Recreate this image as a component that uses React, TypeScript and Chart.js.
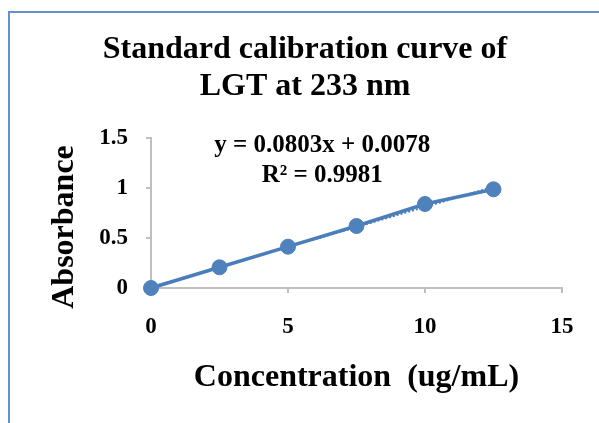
import React, { useEffect, useRef } from "react";
import { Chart, registerables } from "chart.js";

Chart.register(...registerables);

const concentration = [0, 2.5, 5, 7.5, 10, 12.5];
const absorbance = [0, 0.207, 0.413, 0.62, 0.84, 0.987];
const trendX = [0, 12.5];
const trendY = [0.0078, 1.0116];
const titleLines = ["Standard calibration curve of", "LGT at 233 nm"];
const xTitle = "Concentration  (ug/mL)";
const yTitle = "Absorbance";
const equationLines = ["y = 0.0803x + 0.0078", "R² = 0.9981"];
const equationX = 6.25;
const equationY = [1.36, 1.06];
const xTicks = { min: 0, max: 15, step: 5 };
const yTicks = { min: 0, max: 1.5, step: 0.5 };

const FONT = '"Liberation Serif", "Times New Roman", serif';
const BLUE = "#4a7ebb";
const AXIS = "#bfbfbf";

const decor = {
  id: "decor",
  beforeDraw(chart: any) {
    const ctx = chart.ctx;
    ctx.save();
    ctx.strokeStyle = "#6490cc";
    ctx.lineWidth = 2;
    ctx.beginPath();
    ctx.moveTo(9, chart.height);
    ctx.lineTo(9, 12);
    ctx.lineTo(chart.width, 12);
    ctx.stroke();
    ctx.restore();
  },
  afterDatasetsDraw(chart: any) {
    const ctx = chart.ctx;
    const area = chart.chartArea;
    const xs = chart.scales.x;
    const ys = chart.scales.y;
    ctx.save();
    ctx.fillStyle = "#000";
    ctx.font = `bold 25px ${FONT}`;
    ctx.textAlign = "center";
    ctx.textBaseline = "alphabetic";
    equationLines.forEach((t, i) => {
      ctx.fillText(t, xs.getPixelForValue(equationX), ys.getPixelForValue(equationY[i]));
    });
    // y axis title
    ctx.font = `bold 32px ${FONT}`;
    ctx.translate(area.left - 78, (area.top + area.bottom) / 2 + 14);
    ctx.rotate(-Math.PI / 2);
    ctx.fillText(yTitle, 0, 0);
    ctx.restore();
  },
};

export default function App() {
  const ref = useRef<HTMLCanvasElement>(null);
  useEffect(() => {
    if (!ref.current) return;
    const chart = new Chart(ref.current, {
      type: "scatter",
      data: {
        datasets: [
          {
            label: "Absorbance",
            data: concentration.map((x, i) => ({ x, y: absorbance[i] })),
            showLine: true,
            borderColor: BLUE,
            backgroundColor: "#4f81bd",
            borderWidth: 3.5,
            pointRadius: 7.5,
            pointHoverRadius: 7.5,
            pointBorderWidth: 1,
            pointBorderColor: "#4f81bd",
            clip: false as any,
            order: 1,
          },
          {
            label: "Trend",
            data: trendX.map((x, i) => ({ x, y: trendY[i] })),
            showLine: true,
            borderColor: BLUE,
            borderWidth: 2,
            borderDash: [2, 2],
            pointRadius: 0,
            clip: false as any,
            order: 2,
          },
        ],
      },
      options: {
        responsive: false,
        animation: false,
        layout: { padding: { left: 48, right: 37, top: 0, bottom: 0 } },
        plugins: {
          legend: { display: false },
          tooltip: { enabled: false },
          title: {
            display: true,
            text: titleLines,
            color: "#000",
            font: { family: FONT, size: 32, weight: "bold", lineHeight: 1.156 },
            padding: { top: 31.7, bottom: 32.3 },
          },
        },
        scales: {
          x: {
            type: "linear",
            min: xTicks.min,
            max: xTicks.max,
            afterFit(scale: any) {
              scale.height = 135;
            },
            ticks: {
              stepSize: xTicks.step,
              color: "#000",
              font: { family: FONT, size: 23, weight: "bold" },
              padding: 20,
              maxRotation: 0,
              callback: (v: any) => String(Number(v)),
            },
            grid: { drawOnChartArea: false, drawTicks: true, tickLength: 5, color: AXIS, lineWidth: 2 },
            border: { display: true, color: AXIS, width: 2 },
            title: {
              display: true,
              text: xTitle,
              color: "#000",
              font: { family: FONT, size: 32, weight: "bold", lineHeight: 1.2 },
              padding: { top: 0, bottom: 25.6 },
            },
          },
          y: {
            type: "linear",
            min: yTicks.min,
            max: yTicks.max,
            afterFit(scale: any) {
              scale.width = 103;
            },
            ticks: {
              stepSize: yTicks.step,
              color: "#000",
              font: { family: FONT, size: 23, weight: "bold" },
              padding: 18,
              callback: (v: any) => String(Number(v)),
            },
            grid: { drawOnChartArea: false, drawTicks: true, tickLength: 5, color: AXIS, lineWidth: 2 },
            border: { display: true, color: AXIS, width: 2 },
          },
        },
      },
      plugins: [decor],
    });
    return () => chart.destroy();
  }, []);
  return (
    <div style={{ position: "fixed", left: 0, top: 0, width: 599, height: 423, background: "#fff" }}>
      <canvas ref={ref} width={599} height={423} style={{ width: 599, height: 423, display: "block" }} />
    </div>
  );
}
